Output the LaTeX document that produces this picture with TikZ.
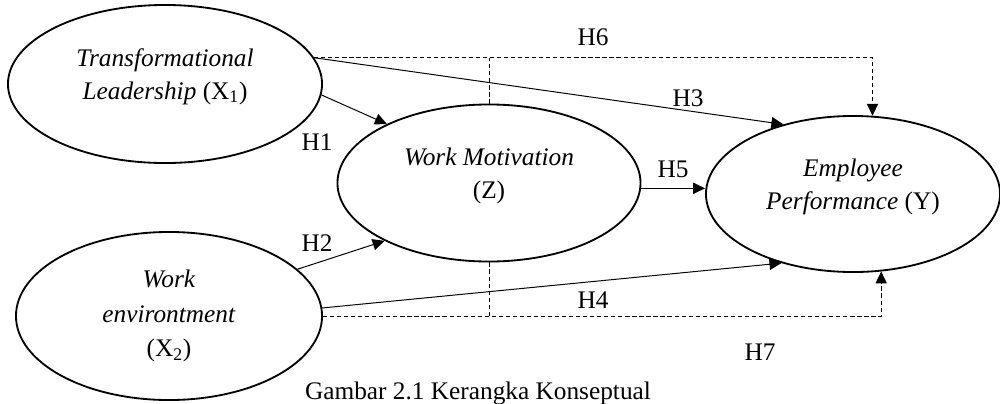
\documentclass[tikz,border=0pt]{standalone}
\usepackage{fontspec}
\setmainfont{Liberation Serif}
\usepackage{tikz}
\usetikzlibrary{shapes.geometric}
\usetikzlibrary{arrows.meta}
\usetikzlibrary{calc}
\usetikzlibrary{positioning}

\begin{document}
\begin{tikzpicture}[x=0.025cm, y=-0.025cm]

\pgfmathsetmacro{\FS}{18}

\tikzset{
  vnode/.style={draw, ellipse, line width=1.3pt, align=center, inner sep=0pt, font=\fontsize{\FS}{23.5}\selectfont},
  hlabel/.style={inner sep=0pt, font=\fontsize{\FS}{22}\selectfont},
  arr/.style={line width=0.7pt, -{Triangle[length=8.5pt, width=8pt]}},
  darr/.style={arr, dash pattern=on 3pt off 2pt},
  dline/.style={line width=0.7pt, dash pattern=on 3pt off 2pt},
}

\useasboundingbox (0, 0) rectangle (1000, 403);

\node [vnode, text depth=14.5pt, minimum width=7.85cm, minimum height=3.95cm] (X1) at (165, 84) {\textit{Transformational}\\\textit{Leadership} (X\textsubscript{1})};
\node [vnode, minimum width=7.65cm, minimum height=4.2cm] (X2) at (169, 316) {\textit{Work}\\[1pt]\textit{environtment}\\[1pt](X\textsubscript{2})};
\node [vnode, text depth=14.5pt, minimum width=7.575cm, minimum height=3.925cm] (Z) at (489, 183) {\textit{Work Motivation}\\(Z)};
\node [vnode, text depth=14pt, minimum width=7.35cm, minimum height=3.9cm] (Y) at (853, 194) {\textit{Employee}\\\textit{Performance} (Y)};

\draw [arr] (X1.-4) -- (Z.150);
\draw [arr] (X2.20) -- (Z.209);
\draw [arr] (X1.10) -- (Y.135);
\draw [arr] (X2.3) -- (Y.224);
\draw [arr] (Z.-2) -- (Z.-2 -| Y.west);

\draw [darr] (X1.10) -| (Y.76);
\draw [darr] (X2.east) -| (Y.-70);
\draw [dline] (Z.north) -- (Z.north |- X1.10);
\draw [dline] (Z.south) -- (Z.south |- X2.east);

\node [hlabel] (h1) at (317, 142) {H1};
\node [hlabel] (h2) at (317, 243) {H2};
\node [hlabel] (h3) at (688, 98) {H3};
\node [hlabel] (h4) at (593, 300) {H4};
\node [hlabel] (h5) at (673, 169) {H5};
\node [hlabel] (h6) at (593, 37) {H6};
\node [hlabel] (h7) at (760, 352) {H7};

\node [hlabel, anchor=base] (cap) at (478, 399) {Gambar 2.1 Kerangka Konseptual};

\end{tikzpicture}
\end{document}
